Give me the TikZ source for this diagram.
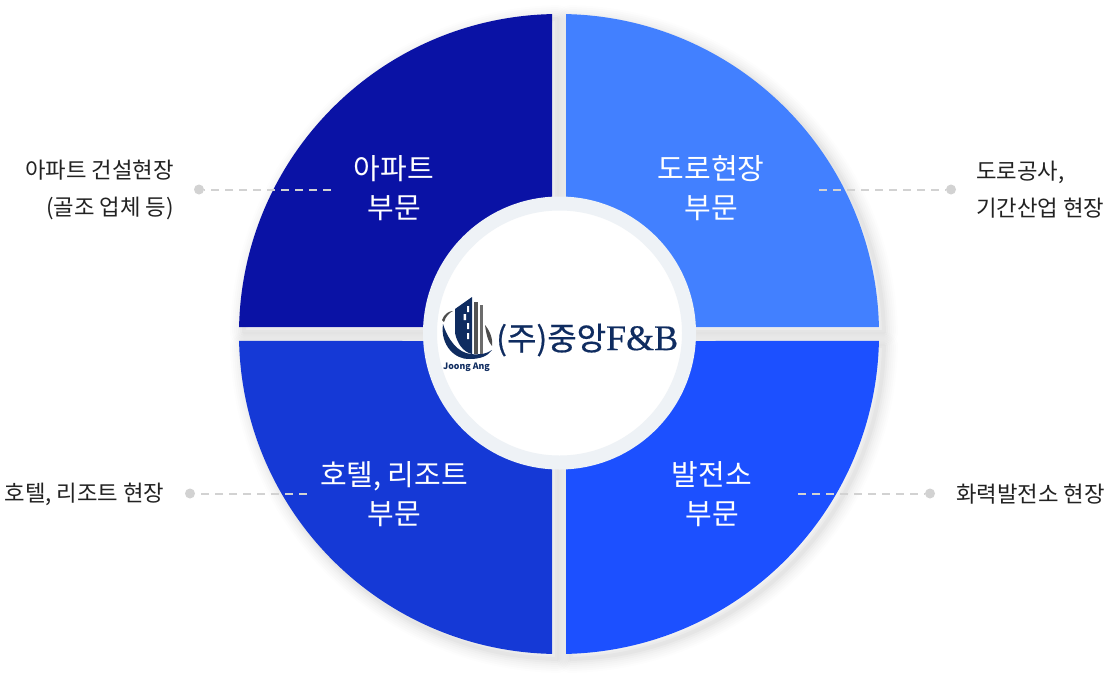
\documentclass[tikz,border=0pt]{standalone}
\usepackage{fontspec}
\setmainfont{Noto Sans CJK KR}
\newfontfamily\latinserif[FakeBold=0.5]{Liberation Serif}
\newfontfamily\logofont[FakeBold=0.5]{Noto Sans CJK KR}
\definecolor{qa}{HTML}{0A12A5}
\definecolor{qb}{HTML}{4280FF}
\definecolor{qc}{HTML}{1539D6}
\definecolor{qd}{HTML}{1C50FF}
\definecolor{ringc}{HTML}{EEF2F6}
\definecolor{dashc}{HTML}{D2D2D2}
\definecolor{navy}{HTML}{0F2C60}
\definecolor{txt}{HTML}{222222}
\tikzset{
  x=1pt,y=-1pt,
  sector/.style={fill=#1,draw=none},
  inlabel/.style={text=white,font=\fontsize{29}{39}\selectfont,align=center,inner sep=0pt},
  outlabel/.style={text=txt,font=\fontsize{22.3}{37}\selectfont,inner sep=0pt},
  dot/.style={circle,fill=dashc,draw=none,minimum size=10pt,inner sep=0pt},
  leader/.style={draw=dashc,line width=2pt,dash pattern=on 8pt off 6pt},
}
\newcommand{\softshadow}[1]{%
  \foreach \w/\o in {28/.008,24/.010,20/.011,16/.013,12/.016,8/.019,4/.022}{%
    \draw[line width=\w pt,black,opacity=\o,line join=round,shift={(5pt,-5pt)}] #1;}}
\begin{document}
\begin{tikzpicture}
\useasboundingbox (0,0) rectangle (1113,683);
\fill[white] (0,0) rectangle (1113,683);
\def\qA{(552,327) -- (552,14.08) arc[start angle=-91.25,end angle=-178.75,radius=320] -- cycle}
\def\qB{(566,327) -- (566,14.08) arc[start angle=-88.75,end angle=-1.25,radius=320] -- cycle}
\def\qC{(552,341) -- (552,653.92) arc[start angle=91.25,end angle=178.75,radius=320] -- cycle}
\def\qD{(566,341) -- (566,653.92) arc[start angle=88.75,end angle=1.25,radius=320] -- cycle}
\softshadow{\qA}\softshadow{\qB}\softshadow{\qC}\softshadow{\qD}
\fill[sector=qa] \qA;
\fill[sector=qb] \qB;
\fill[sector=qc] \qC;
\fill[sector=qd] \qD;
% hub
\node[circle,fill=white,draw=ringc,line width=14pt,minimum size=259pt,inner sep=0pt] (hub) at (559.5,333) {};
% logo
\fill[gray!60!black] (442,320) .. controls (444,314) and (449,311) .. (453,311) .. controls (449,313) and (446,316) .. (444,322) -- cycle;
\fill[navy] (443,324) .. controls (440,345) and (455,360) .. (470,359) .. controls (480,359) and (488,356) .. (492,350) .. controls (487,354) and (478,355) .. (471,354) .. controls (458,353) and (448,340) .. (443,324) -- cycle;
\fill[navy] (455,309) -- (472,297) -- (472,354) .. controls (463,352) and (457,343) .. (455,333) -- cycle;
\fill[white] (467,306) rectangle (469,312) (463.5,314) rectangle (466,320) (467,323) rectangle (469,329) (467,333) rectangle (469,339);
\fill[gray!65!black] (474,302) rectangle (478,354);
\fill[gray!85!black] (480,305) rectangle (483,354);
\fill[gray!60!black] (485,325) .. controls (490,331) and (493,339) .. (492,346) .. controls (488,342) and (486,333) .. (485,325) -- cycle;
\node[inner sep=0pt,text=navy,font=\fontsize{8.8}{10}\selectfont\bfseries] (logoj) at (466.5,367) {Joong Ang};
\node[inner sep=0pt,text=navy,anchor=west,font=\logofont\fontsize{32}{33}\selectfont] (logot) at (496,340) {(주)중앙{\latinserif\fontsize{36}{36}\selectfont F\&B}};
% inner labels
\node[inlabel] (a) at (394,188) {아파트\\부문};
\node[inlabel] (b) at (711,188) {도로현장\\부문};
\node[inlabel] (c) at (394,494) {호텔, 리조트\\부문};
\node[inlabel] (d) at (712,494) {발전소\\부문};
% outer labels
\node[outlabel,align=right,anchor=east] (ta) at (174,190) {아파트 건설현장\\(골조 업체 등)};
\node[outlabel,align=left,anchor=west] (tb) at (976,190) {도로공사,\\기간산업 현장};
\node[outlabel,anchor=east] (tc) at (164.5,494) {호텔, 리조트 현장};
\node[outlabel,anchor=east] (td) at (1105,494) {화력발전소 현장};
% leaders
\node[dot] (da) at (199,189.5) {};
\node[dot] (db) at (951,189.5) {};
\node[dot] (dc) at (190,493.5) {};
\node[dot] (dd) at (930,493.5) {};
\coordinate (ea) at (331,189.5);
\coordinate (eb) at (819,189.5);
\coordinate (ec) at (307,493.5);
\coordinate (ed) at (798,493.5);
\draw[leader] (ea) -- (da);
\draw[leader] (eb) -- (db);
\draw[leader] (ec) -- (dc);
\draw[leader] (ed) -- (dd);
\end{tikzpicture}
\end{document}
